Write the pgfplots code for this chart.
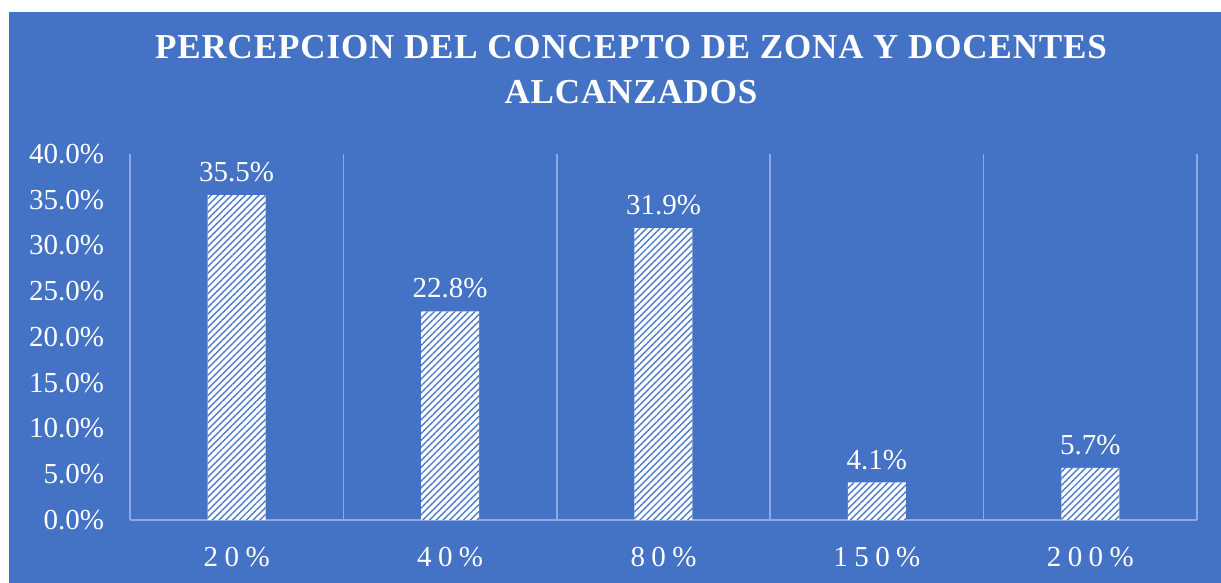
\documentclass[border=0pt]{standalone}
\usepackage{pgfplots}
\pgfplotsset{compat=1.18}
\usepackage{fontspec}
\setmainfont{Liberation Serif}
\newfontfamily\spaced[LetterSpace=22]{Liberation Serif}
\newfontfamily\titlefont[LetterSpace=2.5]{Liberation Serif}
\usetikzlibrary{patterns.meta}
\definecolor{bg}{HTML}{4472C4}
\definecolor{gridc}{HTML}{8EA9DB}
\definecolor{stripe}{HTML}{4F7BCB}
\begin{document}
\begin{tikzpicture}
\fill[white] (0,0) rectangle (610.5pt,291.5pt);
\fill[bg] (4.5pt,0) rectangle (610.5pt,285.5pt);
\node[font=\titlefont\bfseries\fontsize{17.5}{22.5}\selectfont, text=white, align=center] at (315.5pt,256.75pt) {PERCEPCION DEL CONCEPTO DE ZONA Y DOCENTES\\ALCANZADOS};
\begin{axis}[
  at={(65pt,31.5pt)}, anchor=south west,
  scale only axis, width=533.5pt, height=183pt,
  xmin=-0.5, xmax=4.5, ymin=0, ymax=40,
  ybar, bar width=29pt,
  axis x line=bottom, axis y line=left,
  axis line style={gridc, line width=0.75pt, -},
  major tick length=0pt,
  xtick={0,1,2,3,4},
  xticklabels={20\%,40\%,80\%,150\%,200\%},
  x tick label style={font=\spaced\fontsize{14.5}{17}\selectfont, text=white, yshift=-10pt},
  ytick={0,5,...,40},
  yticklabel={\pgfmathprintnumber[fixed,fixed zerofill,precision=1]{\tick}\%},
  y tick label style={font=\fontsize{14.5}{17}\selectfont, text=white, xshift=-9.5pt},
  /pgf/number format/assume math mode=true,
  extra x ticks={0.5,1.5,2.5,3.5,4.5},
  extra x tick labels={},
  extra x tick style={grid=major, major grid style={gridc, line width=0.75pt}},
  nodes near coords={\pgfmathprintnumber[fixed,fixed zerofill,precision=1]{\pgfplotspointmeta}\%},
  every node near coord/.append style={font=\fontsize{14.5}{17}\selectfont, text=white, yshift=3pt},
  clip=false,
]
\addplot[draw=none, fill=white, postaction={pattern={Lines[angle=45,distance=2.4pt,line width=0.7pt]}, pattern color=stripe}]
  coordinates {(0,35.5) (1,22.8) (2,31.9) (3,4.1) (4,5.7)};
\end{axis}
\end{tikzpicture}
\end{document}
